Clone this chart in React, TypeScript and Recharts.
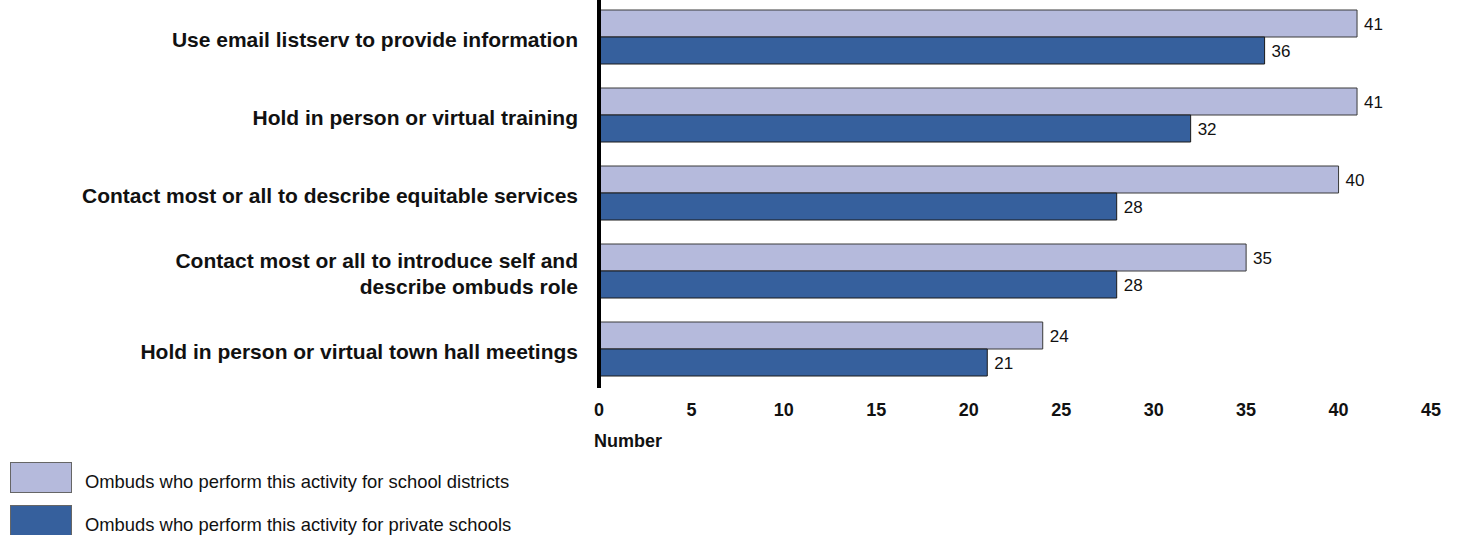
import React from 'react';
import { BarChart, Bar, XAxis, YAxis, LabelList } from 'recharts';

const categories = [
  'Use email listserv to provide information',
  'Hold in person or virtual training',
  'Contact most or all to describe equitable services',
  'Contact most or all to introduce self and\ndescribe ombuds role',
  'Hold in person or virtual town hall meetings',
];
const schoolDistricts = [41, 41, 40, 35, 24];
const privateSchools = [36, 32, 28, 28, 21];
const xTicks = [0, 5, 10, 15, 20, 25, 30, 35, 40, 45];

const SERIES = [
  { key: 'districts', name: 'Ombuds who perform this activity for school districts', color: '#B5BADC', stroke: '#3a3a3a' },
  { key: 'private', name: 'Ombuds who perform this activity for private schools', color: '#36609D', stroke: '#1a1a1a' },
];

const FONT = '"Liberation Sans", Arial, sans-serif';

const data = categories.map((c, i) => ({
  cat: c,
  districts: schoolDistricts[i],
  private: privateSchools[i],
}));

const CategoryTick = (props: any) => {
  const { x, y, payload } = props;
  const lines = String(payload.value).split('\n');
  const lh = 26;
  const start = -((lines.length - 1) * lh) / 2 + 3;
  return (
    <text x={x - 13} y={y} textAnchor="end" fontFamily={FONT} fontWeight="bold" fontSize={21} fill="#111">
      {lines.map((l, i) => (
        <tspan key={i} x={x - 13} y={y + start + i * lh} dy="0.35em">{l}</tspan>
      ))}
    </text>
  );
};

const NumberLabel = (props: any) => {
  const { viewBox } = props;
  return (
    <text x={viewBox.x - 5} y={viewBox.y + 59} fontFamily={FONT} fontWeight="bold" fontSize={18} fill="#111">
      Number
    </text>
  );
};

export default function App() {
  return (
    <div style={{ position: 'absolute', top: 0, left: 0, width: 1459, height: 535, background: '#fff', overflow: 'hidden' }}>
      <div style={{ position: 'absolute', top: -2, left: 0 }}>
        <BarChart
          width={1459}
          height={460}
          data={data}
          layout="vertical"
          margin={{ top: 0, right: 28, bottom: 0, left: 0 }}
          barGap={0}
          barCategoryGap={12}
        >
          <XAxis
            type="number"
            domain={[0, 45]}
            ticks={xTicks}
            axisLine={false}
            tickLine={false}
            tickMargin={9}
            height={70}
            tick={{ fontFamily: FONT, fontWeight: 'bold', fontSize: 18, fill: '#111' }}
            label={<NumberLabel />}
          />
          <YAxis
            type="category"
            dataKey="cat"
            width={599}
            axisLine={{ stroke: '#000', strokeWidth: 4 }}
            tickLine={false}
            tick={<CategoryTick />}
            interval={0}
          />
          {SERIES.map((s) => (
            <Bar
              key={s.key}
              dataKey={s.key}
              name={s.name}
              fill={s.color}
              stroke={s.stroke}
              strokeWidth={1}
              barSize={27}
              isAnimationActive={false}
            >
              <LabelList
                dataKey={s.key}
                position="right"
                offset={7}
                style={{ fontFamily: FONT, fontSize: 17, fill: '#111' }}
              />
            </Bar>
          ))}
        </BarChart>
      </div>
      <div style={{ position: 'absolute', left: 10, top: 462, fontFamily: FONT, fontSize: 18.4, color: '#111' }}>
        {SERIES.map((s) => (
          <div key={s.key} style={{ display: 'flex', alignItems: 'center', height: 31, marginBottom: 12 }}>
            <span
              style={{
                display: 'inline-block',
                width: 60,
                height: 29,
                background: s.color,
                border: '1px solid #666',
                marginRight: 13,
              }}
            />
            <span style={{ position: 'relative', top: 4 }}>{s.name}</span>
          </div>
        ))}
      </div>
    </div>
  );
}
